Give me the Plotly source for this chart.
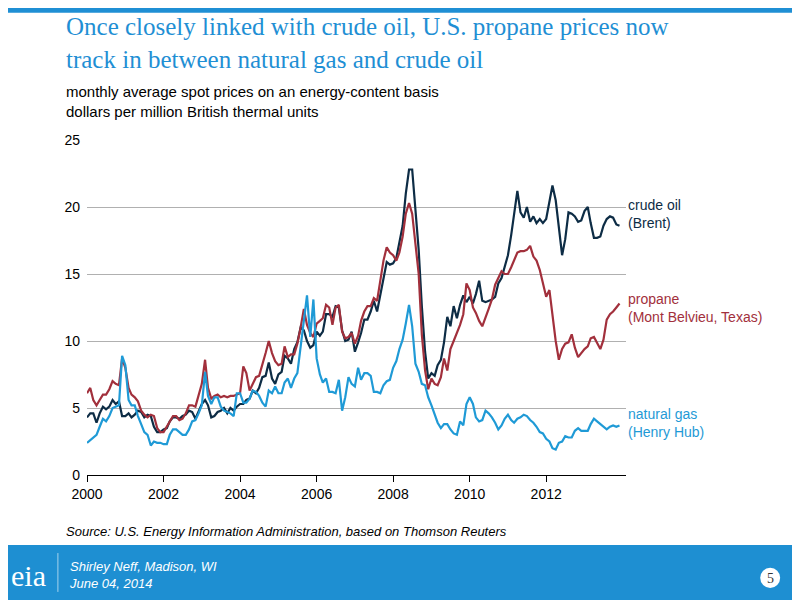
import pandas as pd
import plotly.graph_objects as go

# monthly averages, Jan 2000 - Dec 2013, $/MMBtu
crude_oil = [
    4.3, 4.6, 4.6, 3.9, 4.6, 5.1, 4.9, 5.1, 5.6, 5.3, 5.5, 4.4,
    4.4, 4.6, 4.3, 4.5, 4.8, 4.7, 4.3, 4.5, 4.4, 3.6, 3.2, 3.2,
    3.4, 3.5, 4.0, 4.3, 4.3, 4.2, 4.4, 4.5, 4.8, 4.7, 4.2, 4.7,
    5.3, 5.6, 5.2, 4.3, 4.4, 4.7, 4.8, 5.0, 4.6, 5.0, 4.8, 5.1,
    5.3, 5.3, 5.6, 5.7, 6.3, 6.1, 6.5, 7.3, 7.4, 8.4, 7.2, 6.8,
    7.5, 7.7, 8.9, 8.7, 8.3, 9.4, 9.9, 11.0, 10.8, 10.0, 9.5, 9.7,
    10.7, 10.4, 10.7, 12.0, 12.0, 11.8, 12.6, 12.5, 10.8, 10.0, 10.1, 10.7,
    9.2, 9.9, 10.6, 11.6, 11.6, 12.2, 13.0, 12.2, 13.5, 14.6, 15.9, 15.7,
    15.8, 16.2, 17.3, 18.6, 21.0, 22.8, 22.8, 19.6, 16.8, 12.6, 9.2, 7.2,
    7.6, 7.4, 8.2, 8.6, 9.9, 11.8, 11.1, 12.6, 11.7, 12.7, 13.4, 12.9,
    13.3, 12.8, 13.5, 14.5, 13.0, 12.9, 13.0, 13.1, 13.3, 14.3, 14.7, 15.6,
    16.4, 17.9, 19.5, 21.2, 19.6, 19.2, 20.0, 18.9, 19.3, 18.8, 19.1, 18.8,
    19.1, 20.5, 21.6, 20.5, 18.5, 16.4, 17.6, 19.6, 19.5, 19.3, 18.9, 19.0,
    19.7, 20.0, 18.8, 17.7, 17.7, 17.8, 18.6, 19.1, 19.3, 19.2, 18.7, 18.6,
]
propane = [
    6.1, 6.5, 5.6, 5.2, 5.6, 6.0, 6.0, 6.4, 7.0, 6.8, 6.7, 8.7,
    8.0, 6.5, 6.0, 5.8, 5.5, 4.8, 4.5, 4.3, 4.5, 4.4, 3.5, 3.2,
    3.2, 3.6, 4.0, 4.4, 4.4, 4.1, 4.2, 4.6, 5.2, 5.2, 5.1, 6.0,
    6.8, 8.6, 6.5, 5.7, 5.9, 6.0, 5.8, 5.9, 5.8, 5.9, 5.9, 6.0,
    6.1, 8.1, 7.6, 6.3, 6.8, 7.3, 7.4, 8.2, 9.1, 10.0, 9.1, 8.5,
    8.2, 8.3, 9.6, 8.8, 9.0, 9.0, 9.8, 11.0, 12.4, 11.2, 10.6, 10.3,
    11.3, 11.5, 11.7, 12.7, 12.5, 11.2, 12.5, 12.7, 10.7, 10.2, 10.3, 10.6,
    9.8, 10.4, 11.5, 12.2, 12.6, 12.6, 13.2, 13.0, 14.7, 16.0, 17.0, 16.6,
    16.4, 16.0, 16.6, 17.8, 19.5, 20.3, 19.5, 17.2, 15.0, 10.5, 7.8, 6.4,
    7.2, 6.8, 6.7, 7.3, 8.7, 7.8, 9.4, 10.0, 10.6, 11.2, 12.0, 14.3,
    13.8, 12.5, 12.1, 11.5, 11.1, 11.7, 12.4, 13.1, 14.2, 14.7, 15.2, 15.0,
    15.0, 15.5, 16.0, 16.6, 16.7, 16.7, 16.8, 17.1, 16.3, 16.0, 15.3, 14.3,
    13.3, 13.8, 12.0, 10.0, 8.6, 9.4, 9.8, 9.9, 10.5, 9.5, 8.8, 9.1,
    9.4, 9.6, 10.2, 10.3, 9.9, 9.4, 10.1, 11.6, 12.0, 12.2, 12.5, 12.8,
]
natural_gas = [
    2.4, 2.6, 2.8, 3.0, 3.6, 4.2, 4.0, 4.4, 5.0, 5.1, 5.2, 8.9,
    8.2, 5.6, 5.2, 5.2, 4.4, 3.8, 3.2, 3.0, 2.2, 2.5, 2.4, 2.4,
    2.3, 2.3, 3.0, 3.4, 3.4, 3.2, 3.0, 3.0, 3.4, 4.0, 4.1, 4.6,
    5.2, 7.7, 5.9, 5.3, 5.8, 5.8, 5.1, 4.8, 4.7, 4.6, 4.4, 6.1,
    6.1, 5.4, 5.4, 5.7, 6.3, 6.2, 5.9, 5.4, 5.1, 6.3, 6.1, 6.6,
    6.1, 6.1, 6.9, 7.2, 6.5, 7.2, 7.6, 9.5, 11.8, 13.4, 10.3, 13.1,
    8.7, 7.5, 6.9, 7.2, 6.2, 6.2, 6.1, 7.1, 4.8, 5.8, 7.3, 6.8,
    6.6, 8.0, 7.1, 7.6, 7.6, 7.4, 6.2, 6.2, 6.1, 6.7, 7.0, 7.1,
    8.0, 8.5, 9.4, 10.1, 11.3, 12.7, 11.1, 8.3, 7.7, 6.8, 6.7, 5.8,
    5.2, 4.5, 3.9, 3.5, 3.8, 3.8, 3.4, 3.1, 3.0, 4.0, 3.7, 5.3,
    5.8, 5.3, 4.3, 4.0, 4.1, 4.8, 4.6, 4.3, 3.9, 3.4, 3.7, 4.2,
    4.5, 4.1, 3.9, 4.2, 4.3, 4.5, 4.4, 4.1, 3.9, 3.6, 3.2, 3.1,
    2.7, 2.5, 2.0, 1.9, 2.4, 2.5, 2.9, 2.8, 2.8, 3.3, 3.5, 3.3,
    3.3, 3.3, 3.8, 4.2, 4.0, 3.8, 3.6, 3.4, 3.6, 3.7, 3.6, 3.7,
]
months = pd.date_range("2000-01-01", periods=len(crude_oil), freq="MS")
tick_years = ["2000", "2002", "2004", "2006", "2008", "2010", "2012"]

series = [
    ("crude oil<br>(Brent)", crude_oil, "#0d2c45", 19.5),
    ("propane<br>(Mont Belvieu, Texas)", propane, "#a2303c", 12.5),
    ("natural gas<br>(Henry Hub)", natural_gas, "#1f9ad6", 3.9),
]

fig = go.Figure()
for name, vals, color, label_y in series:
    fig.add_trace(go.Scatter(x=months, y=vals, mode="lines", name=name,
                             line=dict(color=color, width=2.2), showlegend=False))
    fig.add_annotation(x=1.0, xref="paper", y=label_y, yref="y", text=name,
                       showarrow=False, xanchor="left", align="left",
                       font=dict(family="Liberation Sans", size=14, color=color))

# slide decoration (paper coords: plot is 539 x 335 px)
fig.add_shape(type="rect", xref="paper", yref="paper", x0=-0.2, x1=1.6, y0=1.38, y1=1.45,
              fillcolor="#1f8fd4", line_width=0, layer="below")
fig.add_shape(type="rect", xref="paper", yref="paper", x0=-0.2, x1=1.6, y0=-0.45, y1=-0.209,
              fillcolor="#1e8fd2", line_width=0, layer="below")
fig.add_shape(type="line", xref="paper", yref="paper", x0=-0.054, x1=-0.054, y0=-0.349, y1=-0.233,
              line=dict(color="rgba(255,255,255,0.6)", width=1))
fig.add_shape(type="circle", xref="paper", yref="paper", x0=1.249, x1=1.286, y0=-0.337, y1=-0.277,
              fillcolor="white", line_width=0)

texts = [
    (-0.043, 1.385, "Once closely linked with crude oil, U.S. propane prices now<br>track in between natural gas and crude oil",
     dict(family="Liberation Serif", size=25, color="#1f8fd4"), "left"),
    (-0.043, 1.177, "monthly average spot prices on an energy-content basis<br>dollars per million British thermal units",
     dict(family="Liberation Sans", size=15, color="black"), "left"),
    (-0.043, -0.14, "<i>Source: U.S. Energy Information Administration, based on Thomson Reuters</i>",
     dict(family="Liberation Sans", size=13, color="black"), "left"),
    (-0.037, -0.245, "<i>Shirley Neff, Madison, WI<br>June 04, 2014</i>",
     dict(family="Liberation Sans", size=13, color="white"), "left"),
    (-0.145, -0.245, "eia", dict(family="Liberation Serif", size=30, color="white"), "left"),
    (1.2675, -0.282, "5", dict(family="Liberation Serif", size=14, color="#333"), "center"),
]
for x, y, t, f, anchor in texts:
    fig.add_annotation(x=x, y=y, xref="paper", yref="paper", text=t, showarrow=False,
                       xanchor=anchor, yanchor="top", align="left", font=f)

fig.update_layout(
    width=800, height=600,
    margin=dict(l=79, r=182, t=132, b=133),
    paper_bgcolor="white", plot_bgcolor="white",
    font=dict(family="Liberation Sans", size=14, color="black"),
)
fig.update_xaxes(range=["2000-01-01", "2014-02-01"],
                 tickvals=[y + "-01-01" for y in tick_years], ticktext=tick_years,
                 showgrid=False, showline=True, linecolor="black",
                 ticks="outside", ticklen=6, tickcolor="black",
                 tickfont=dict(size=14))
fig.update_yaxes(range=[0, 25], dtick=5, showgrid=True, gridcolor="#b0b0b0",
                 zeroline=False, tickfont=dict(size=14), ticklabelstandoff=6)

fig.write_html("out.html")
